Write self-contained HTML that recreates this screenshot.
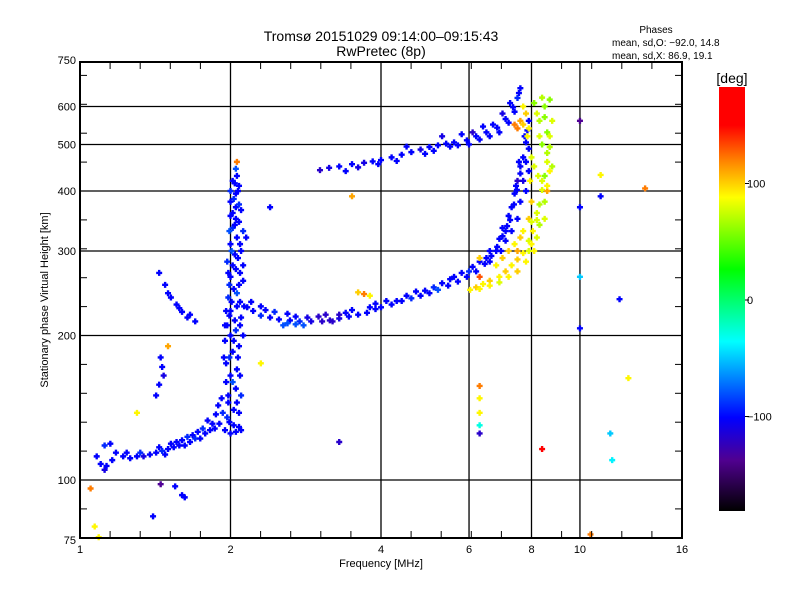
<!DOCTYPE html>
<html><head><meta charset="utf-8"><style>
body{margin:0;background:#fff;}
svg text{font-family:"Liberation Sans",sans-serif;fill:#000;}
</style></head><body>
<svg id="c" width="800" height="600" xmlns="http://www.w3.org/2000/svg">
<defs>
<linearGradient id="cg" x1="0" y1="0" x2="0" y2="1">
<stop offset="0" stop-color="#ff0000"/><stop offset="0.09" stop-color="#ff0000"/>
<stop offset="0.18" stop-color="#ff8c00"/><stop offset="0.26" stop-color="#ffff00"/>
<stop offset="0.43" stop-color="#00ff00"/><stop offset="0.6" stop-color="#00ffff"/>
<stop offset="0.78" stop-color="#0000ff"/><stop offset="0.88" stop-color="#500090"/>
<stop offset="1" stop-color="#000000"/>
</linearGradient>
</defs>
<text x="381" y="41" font-size="14" text-anchor="middle">Tromsø 20151029 09:14:00–09:15:43</text>
<text x="381" y="56" font-size="14" text-anchor="middle">RwPretec (8p)</text>
<text x="656" y="33" font-size="10" text-anchor="middle">Phases</text>
<text x="612" y="46" font-size="10">mean, sd,O: −92.0, 14.8</text>
<text x="612" y="59" font-size="10">mean, sd,X:  86.9, 19.1</text>
<g id="grid"></g>
<g id="pts"></g>
<g id="axes"></g>
<rect x="80" y="62" width="602" height="476" fill="none" stroke="#000" stroke-width="2"/>
<text x="381" y="567" font-size="11" text-anchor="middle">Frequency [MHz]</text>
<text transform="translate(48,300) rotate(-90)" font-size="11" text-anchor="middle">Stationary phase Virtual Height [km]</text>
<rect x="719" y="87" width="26" height="424" fill="url(#cg)"/>
<text x="732" y="83" font-size="14" text-anchor="middle">[deg]</text>
<g id="cb"></g>
</svg>
<script>
const xTicks=[1,2,4,6,8,10,16];
const yTicks=[75,100,200,300,400,500,600,750];
const gridX=[2,4,6,8,10];
const gridY=[100,200,300,400,500,600];
const cbTicks=[100,0,-100];
// [freq MHz, height km, phase deg]
const lowTrace=[[1.08,112,-100],[1.1,108,-100],[1.12,105,-110],[1.13,107,-100],[1.12,118,-90],[1.15,119,-100],[1.18,114,-100],[1.22,112,-100],[1.26,111,-100],[1.3,112,-100],[1.34,112,-110],[1.38,113,-100],[1.42,114,-100],[1.46,115,-90],[1.5,116,-100],[1.54,117,-100],[1.58,118,-100],[1.62,118,-100],[1.66,120,-100],[1.7,122,-90],[1.74,122,-100],[1.78,125,-100],[1.82,127,-100],[1.86,128,-100],[1.9,131,-100],[1.93,138,-90],[1.89,143,-100],[1.92,148,-100],[1.72,126,-100],[1.64,123,-90],[1.56,120,-100],[1.8,133,-100],[1.24,114,-100],[1.32,114,-90],[1.44,117,-100],[1.52,119,-100],[1.6,121,-100],[1.68,124,-100],[1.76,128,-90],[1.84,131,-100],[1.87,137,-100],[1.95,127,-100],[1.16,110,-100],[1.48,113,-100]];
const column=[[2.0,125,-100],[2.05,126,-100],[2.1,127,-100],[1.97,135,-90],[2.03,140,-100],[2.08,138,-100],[1.98,150,-100],[2.05,155,-100],[2.1,150,-90],[2.0,165,-100],[2.06,170,-100],[1.96,175,-100],[2.02,185,-100],[2.08,190,-100],[2.0,200,-100],[2.05,205,-90],[1.97,210,-100],[2.04,215,-100],[2.1,218,-100],[2.0,225,-100],[2.06,230,-100],[1.98,240,-90],[2.03,250,-100],[2.08,255,-100],[2.0,265,-100],[2.05,275,-100],[1.97,285,-90],[2.04,295,-100],[2.1,300,-100],[2.0,310,-100],[2.06,320,-100],[2.02,335,-90],[2.08,345,-100],[2.0,355,-100],[2.05,370,-100],[2.03,385,-90],[2.07,400,-100],[2.04,415,-100],[2.06,430,-100],[2.05,445,-80],[2.12,260,-100],[2.13,230,-100],[1.95,195,-100],[1.94,180,-100],[2.12,330,-90],[2.1,365,-100],[1.99,132,-100],[2.02,160,-80],[2.07,180,-100],[2.03,195,-100],[1.99,220,-100],[2.06,245,-80],[2.02,280,-100],[2.07,290,-100],[2.01,300,-80],[2.04,340,-100],[2.02,360,-100],[2.08,375,-90],[2.05,395,-100],[2.02,420,-100],[1.96,160,-100],[2.09,210,-100],[1.98,145,-100],[2.06,145,-100],[1.99,180,-90],[2.09,165,-100],[1.96,225,-100],[2.09,235,-100],[1.99,255,-90],[2.09,270,-100],[1.98,270,-100],[2.09,310,-100],[1.99,330,-80],[2.05,350,-100],[2.0,380,-100],[2.08,410,-100],[2.0,400,-90],[2.06,460,120],[2.12,280,-100],[2.12,200,-100],[1.95,210,-100],[2.03,130,-100],[2.08,129,-100],[2.01,235,-100]];
const branch=[[1.44,270,-100],[1.48,255,-100],[1.52,240,-100],[1.56,232,-100],[1.6,224,-100],[1.64,218,-100],[1.7,214,-100],[1.45,180,-100],[1.46,172,-100],[1.47,165,-110],[1.44,158,-100],[1.42,150,-100],[1.5,190,110],[1.58,228,-100],[1.66,221,-100],[1.5,245,-100]];
const oTrace=[[2.16,229,-100],[2.22,225,-100],[2.3,220,-90],[2.4,218,-100],[2.5,216,-100],[2.63,215,-100],[2.75,214,-90],[2.9,214,-110],[3.05,214,-120],[3.16,215,-120],[3.3,217,-110],[3.45,219,-100],[3.6,221,-100],[3.75,223,-100],[3.9,227,-100],[4.0,229,-100],[4.2,232,-100],[4.4,236,-100],[4.6,239,-90],[4.8,242,-100],[5.0,245,-100],[5.2,249,-80],[5.45,254,-100],[5.7,259,-100],[5.94,265,-100],[6.2,272,-100],[6.45,282,-100],[6.65,293,-100],[6.83,306,-100],[7.0,322,-100],[7.15,338,-100],[7.25,348,-100],[7.38,375,-100],[7.48,402,-100],[7.6,435,-100],[7.7,470,-100],[7.8,505,-100],[7.85,535,-100],[2.3,230,-100],[2.45,224,-90],[2.7,219,-100],[3.0,219,-120],[3.4,223,-100],[3.8,229,-100],[4.3,236,-100],[4.9,248,-100],[5.5,262,-100],[6.0,272,-90],[6.5,290,-100],[6.9,318,-100],[7.2,355,-100],[7.4,395,-100],[7.6,450,-100],[2.8,210,-80],[2.55,210,-80],[6.8,300,-100],[7.1,330,-100],[7.5,420,-120],[7.9,560,-100],[3.6,246,100],[3.7,244,120],[3.8,242,90],
[2.2,235,-100],[2.35,226,-100],[2.6,222,-100],[2.85,218,-110],[3.1,221,-120],[3.5,226,-100],[3.9,233,-100],[4.1,236,-100],[4.5,242,-100],[4.7,247,-100],[5.1,252,-90],[5.3,257,-100],[5.6,265,-100],[5.8,270,-100],[6.1,278,-100],[6.3,285,-100],[6.6,300,-100],[7.0,335,-100],[7.3,370,-100],[7.45,410,-100],[7.55,460,-100],[7.75,520,-100],[7.3,330,-100],[7.6,380,-100],[7.7,420,-110],[7.8,460,-100],[7.9,490,-100],[6.6,285,-100],[6.95,300,-100],[7.1,315,-100],[7.5,350,-100],[7.8,400,-100],[7.9,440,-100],[2.6,212,-80],[2.7,211,-80],[3.2,214,-120],[3.3,221,-120]];
const xTrace=[[6.03,249,90],[6.2,252,100],[6.4,256,90],[6.6,260,100],[6.9,265,90],[7.1,272,100],[7.3,280,90],[7.5,288,100],[7.7,297,90],[7.9,315,80],[8.05,330,90],[8.2,348,80],[8.3,375,70],[8.4,402,80],[8.5,430,60],[8.6,460,80],[8.7,494,70],[8.6,530,60],[8.5,570,60],[8.4,626,70],[7.8,580,100],[7.6,560,110],[7.4,550,120],[7.7,600,90],[8.1,610,60],[8.3,520,80],[8.0,470,80],[7.95,420,90],[8.0,380,100],[8.1,300,90],[7.6,320,100],[7.2,300,100],[6.8,280,90],[8.6,400,110],[8.5,350,80],[8.7,440,90],
[6.3,250,90],[6.6,254,90],[6.9,258,80],[7.2,265,90],[7.5,272,100],[7.8,285,90],[7.9,300,80],[8.0,310,90],[8.2,320,80],[8.3,340,70],[8.2,360,80],[8.5,380,70],[8.4,420,80],[8.6,410,90],[8.8,450,70],[8.7,520,80],[8.6,480,70],[8.4,500,60],[8.5,600,60],[8.3,560,70],[8.2,580,80],[7.9,540,90],[7.7,550,100],[7.5,540,120],[7.85,520,90],[8.7,620,60],[8.25,430,80],[8.1,450,80],[8.8,560,80],[7.9,350,100],[7.7,330,90],[7.4,310,90],[7.0,290,100],[7.5,300,110],[8.0,345,80]];
const upper=[[3.02,442,-120],[3.15,447,-110],[3.3,450,-100],[3.5,455,-100],[3.7,458,-110],[3.85,461,-100],[4.0,464,-100],[4.2,470,-100],[4.4,476,-100],[4.6,482,-100],[4.8,488,-110],[5.0,494,-100],[5.2,498,-100],[5.4,502,-100],[5.6,505,-100],[5.94,510,-100],[6.2,520,-100],[6.5,530,-100],[6.83,542,-100],[7.1,565,-100],[7.35,598,-100],[7.5,625,-90],[7.6,655,-100],[5.3,520,-110],[5.8,525,-100],[6.4,545,-100],[7.0,580,-110],[4.5,495,-100],[3.4,440,-100],[3.6,448,-110],[3.95,455,-100],[4.3,462,-100],[4.9,478,-100],[5.1,485,-100],[5.5,495,-100],[5.7,498,-100],[6.0,500,-100],[6.3,512,-100],[6.6,520,-100],[6.9,530,-100],[7.2,555,-100],[7.4,585,-100],[7.55,640,-100],[6.1,530,-120],[6.7,550,-100],[7.25,610,-100]];
const scatter=[[1.05,96,120],[1.07,80,90],[1.09,76,90],[1.4,84,-100],[1.6,93,-100],[1.55,97,-100],[10.5,77,120],[11,432,90],[11,390,-100],[12,238,-100],[12.5,163,90],[10,370,-100],[10,265,-50],[10,207,-100],[10,560,-140],[6.3,157,120],[6.3,148,90],[6.3,138,90],[6.3,130,-30],[6.3,125,-120],[3.3,120,-120],[1.3,138,90],[1.45,98,-140],[1.62,92,-100],[13.5,405,120],[11.5,125,-50],[11.6,110,-40],[8.4,116,150],[6.3,265,130],[6.3,290,100],[2.4,370,-100],[3.5,390,110],[2.15,320,-100],[2.3,175,90]];

const X=f=>80+150.5*Math.log2(f);
const Y=h=>480-144.5*Math.log2(h/100);
const NS="http://www.w3.org/2000/svg";
function mk(tag,parent){const e=document.createElementNS(NS,tag);parent.appendChild(e);return e;}
function col(p){
 const st=[[-180,0,0,0],[-140,80,0,150],[-100,0,0,255],[-60,0,160,255],[-37,0,255,255],[27,0,255,0],[88,255,255,0],[116,255,140,0],[150,255,0,0],[200,255,0,0]];
 for(let i=0;i<st.length-1;i++){const a=st[i],b=st[i+1];if(p<=b[0]){const t=Math.max(0,(p-a[0])/(b[0]-a[0]));return `rgb(${Math.round(a[1]+t*(b[1]-a[1]))},${Math.round(a[2]+t*(b[2]-a[2]))},${Math.round(a[3]+t*(b[3]-a[3]))})`;}}
 return "rgb(255,0,0)";
}
const grid=document.getElementById('grid'),axes=document.getElementById('axes'),pts=document.getElementById('pts'),cb=document.getElementById('cb');
gridX.forEach(v=>{const l=mk('line',grid);l.setAttribute('x1',X(v));l.setAttribute('x2',X(v));l.setAttribute('y1',62);l.setAttribute('y2',538);l.setAttribute('stroke','#000');l.setAttribute('stroke-width','1.3');

});
gridY.forEach(v=>{const l=mk('line',grid);l.setAttribute('x1',80);l.setAttribute('x2',682);l.setAttribute('y1',Y(v));l.setAttribute('y2',Y(v));l.setAttribute('stroke','#000');l.setAttribute('stroke-width','1.3');

});
for(let k=1;k<20;k++){const x=80+30.1*k;[[62,69],[531,538]].forEach(([a,b])=>{const l=mk('line',axes);l.setAttribute('x1',x);l.setAttribute('x2',x);l.setAttribute('y1',a);l.setAttribute('y2',b);l.setAttribute('stroke','#000');

});}
for(let k=-2;k<16;k++){const y=480-28.9*k;if(y<63||y>537)continue;[[80,87],[675,682]].forEach(([a,b])=>{const l=mk('line',axes);l.setAttribute('x1',a);l.setAttribute('x2',b);l.setAttribute('y1',y);l.setAttribute('y2',y);l.setAttribute('stroke','#000');

});}
xTicks.forEach(v=>{const t=mk('text',axes);t.setAttribute('x',X(v));t.setAttribute('y',553);t.setAttribute('font-size','11');t.setAttribute('text-anchor','middle');t.textContent=v;

});
yTicks.forEach(v=>{const t=mk('text',axes);t.setAttribute('x',76);t.setAttribute('y',Y(v)+4);t.setAttribute('font-size','11');t.setAttribute('text-anchor','end');t.textContent=v;

});
cbTicks.forEach(v=>{const y=300-1.165*v;const l=mk('line',cb);l.setAttribute('x1',745);l.setAttribute('x2',749);l.setAttribute('y1',y);l.setAttribute('y2',y);l.setAttribute('stroke','#000');


const t=mk('text',cb);t.setAttribute('x',747);t.setAttribute('y',y+4);t.setAttribute('font-size','11');t.textContent=v<0?'−'+(-v):v;

});
[lowTrace,column,branch,oTrace,xTrace,upper,scatter].forEach(arr=>arr.forEach(([f,h,p])=>{
 const x=X(f),y=Y(h);const pth=mk('path',pts);
 pth.setAttribute('d',`M${x-3},${y}h6M${x},${y-3}v6`);pth.setAttribute('stroke',col(p));pth.setAttribute('stroke-width','2.4');
 
 
}));
</script>
</body></html>
